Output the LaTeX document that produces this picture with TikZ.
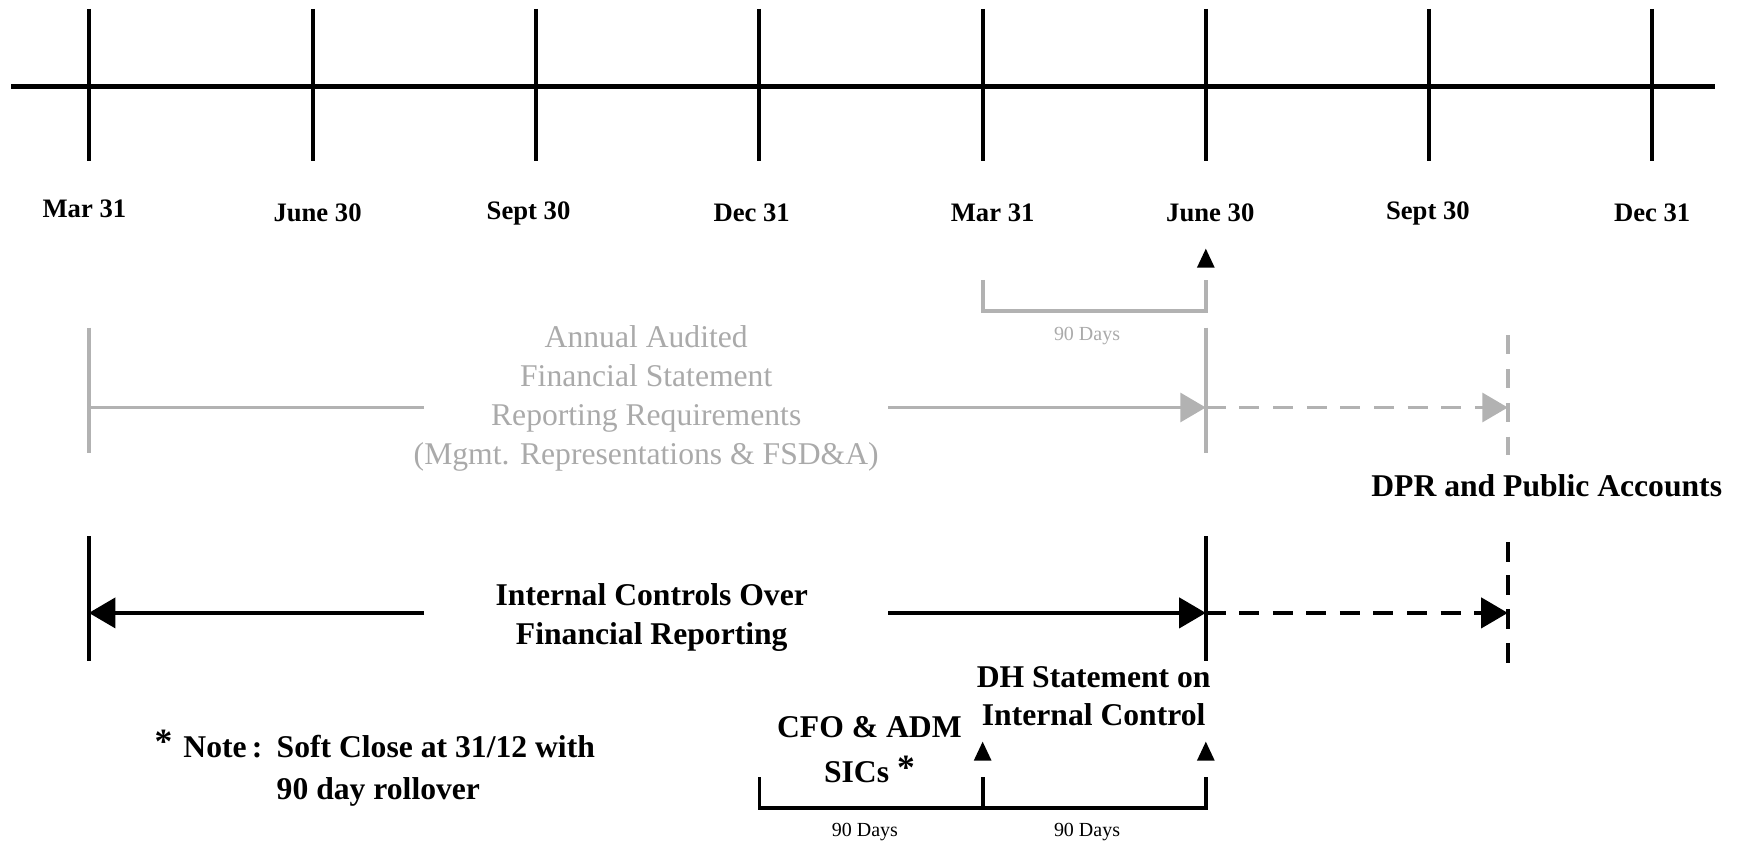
\documentclass[tikz,border=0pt]{standalone}
\usepackage{fontspec}
\setmainfont{Liberation Serif}
\usetikzlibrary{arrows.meta}
\definecolor{lgray}{RGB}{178,178,178}
\definecolor{tgray}{RGB}{170,170,170}
\newcommand{\bigast}{\raisebox{3pt}{\fontsize{32}{35}\selectfont *}}
\tikzset{
  axisline/.style={line width=4pt,black},
  tick/.style={line width=3.6pt,black},
  gline/.style={line width=3.4pt,lgray},
  bline/.style={line width=3.8pt,black},
  gdash/.style={gline,dash pattern=on 18pt off 12.3pt},
  gvdash/.style={gline,dash pattern=on 17.2pt off 13.2pt},
  bdash/.style={bline,dash pattern=on 18pt off 12.2pt},
  bvdash/.style={bline,dash pattern=on 18pt off 12.3pt},
  gtip/.style={-{Triangle[length=23pt,width=26pt]}},
  btip/.style={-{Triangle[length=24pt,width=27pt]}},
  datelab/.style={font=\bfseries\fontsize{24}{29}\selectfont,inner sep=0pt},
  biglab/.style={font=\bfseries\fontsize{28.5}{35}\selectfont,align=center,inner sep=0pt},
  graylab/.style={font=\fontsize{28.5}{35}\selectfont,align=center,text=tgray,inner sep=0pt},
  smalllab/.style={font=\fontsize{18}{22}\selectfont,inner sep=0pt},
  marker/.style={fill=black}
}
\begin{document}
\begin{tikzpicture}[x=1pt,y=1pt]
\useasboundingbox (0,0) rectangle (1568,-760);
% axis
\coordinate (axL) at (10,-78);
\coordinate (axR) at (1545,-78);
\draw[axisline] (axL) -- (axR);
\foreach \x/\n in {80/t1,282/t2,483/t3,684/t4,885/t5,1086/t6,1287/t7,1488/t8}{
  \coordinate (\n top) at (\x,-8);
  \coordinate (\n bot) at (\x,-145);
  \draw[tick] (\n top) -- (\n bot);
}
% date labels
\node[datelab] (d1) at (76,-188) {Mar 31};
\node[datelab] (d2) at (286,-192) {June 30};
\node[datelab] (d3) at (476,-192) {Sept 30};
\node[datelab] (d4) at (677,-192) {Dec 31};
\node[datelab] (d5) at (894,-192) {Mar 31};
\node[datelab] (d6) at (1090,-192) {June 30};
\node[datelab] (d7) at (1286,-192) {Sept 30};
\node[datelab] (d8) at (1488,-192) {Dec 31};
% marker under June 30
\fill[marker] (1078,-241) -- (1094,-241) -- (1086,-224) -- cycle;
% gray 90 days bracket
\coordinate (gb1) at (885,-252);
\coordinate (gb2) at (885,-280);
\coordinate (gb3) at (1086,-280);
\coordinate (gb4) at (1086,-252);
\draw[gline] (gb1) -- (gb2) -- (gb3) -- (gb4);
\node[smalllab,text=tgray] (g90) at (979,-303) {90 Days};
% gray section
\coordinate (gv1t) at (80,-295); \coordinate (gv1b) at (80,-408);
\coordinate (gv2t) at (1086,-295); \coordinate (gv2b) at (1086,-408);
\coordinate (gv3t) at (1358,-302); \coordinate (gv3b) at (1358,-410);
\draw[gline] (gv1t) -- (gv1b);
\draw[gline] (gv2t) -- (gv2b);
\draw[gvdash] (gv3t) -- (gv3b);
\node[graylab] (gtext) at (582,-359) {Annual Audited\\Financial Statement\\Reporting Requirements\\(Mgmt. Representations \& FSD\&A)};
\coordinate (gA) at (80,-367);
\coordinate (gL) at (382,-367);
\coordinate (gR) at (800,-367);
\coordinate (gE) at (1086,-367);
\coordinate (gD) at (1358,-367);
\draw[gline] (gA) -- (gL);
\draw[gline,gtip] (gR) -- (gE);
\draw[gdash,gtip] (gE) -- (gD);
\node[biglab] (dpr) at (1393,-437) {DPR and Public Accounts};
% black section
\coordinate (bv1t) at (80,-483); \coordinate (bv1b) at (80,-595);
\coordinate (bv2t) at (1086,-483); \coordinate (bv2b) at (1086,-595);
\coordinate (bv3t) at (1358,-488); \coordinate (bv3b) at (1358,-597);
\draw[bline] (bv1t) -- (bv1b);
\draw[bline] (bv2t) -- (bv2b);
\draw[bvdash] (bv3t) -- (bv3b);
\node[biglab] (ictext) at (587,-556) {Internal Controls Over\\Financial Reporting};
\coordinate (bA) at (80,-552);
\coordinate (bL) at (382,-552);
\coordinate (bR) at (800,-552);
\coordinate (bE) at (1086,-552);
\coordinate (bD) at (1358,-552);
\draw[bline,btip] (bL) -- (bA);
\draw[bline,btip] (bR) -- (bE);
\draw[bdash,btip] (bE) -- (bD);
% DH statement
\node[biglab] (dh) at (985,-627) {DH Statement on\\Internal Control};
\node[biglab] (cfo) at (783,-675) {CFO \& ADM\\[6pt]SICs \bigast};
\fill[marker] (877,-685) -- (893,-685) -- (885,-668) -- cycle;
\fill[marker] (1078,-685) -- (1094,-685) -- (1086,-668) -- cycle;
% bottom bracket
\coordinate (bb1) at (684,-700); \coordinate (bb2) at (684,-728);
\coordinate (bb3) at (1086,-728); \coordinate (bb4) at (1086,-700);
\coordinate (bm1) at (885,-700); \coordinate (bm2) at (885,-728);
\draw[bline,line width=3.4pt] (bb1) -- (bb2) -- (bb3) -- (bb4);
\draw[bline,line width=3.4pt] (bm1) -- (bm2);
\node[smalllab] (n90a) at (779,-749) {90 Days};
\node[smalllab] (n90b) at (979,-749) {90 Days};
% note
\node[biglab,anchor=base west] (ast) at (139,-682) {\bigast};
\node[biglab,anchor=base west] (noteA) at (165,-682) {Note\,:};
\node[biglab,anchor=base west,align=left] (noteB) at (249,-682) {Soft Close at 31/12 with};
\node[biglab,anchor=base west,align=left] (noteC) at (249,-720) {90 day rollover};
\end{tikzpicture}
\end{document}
